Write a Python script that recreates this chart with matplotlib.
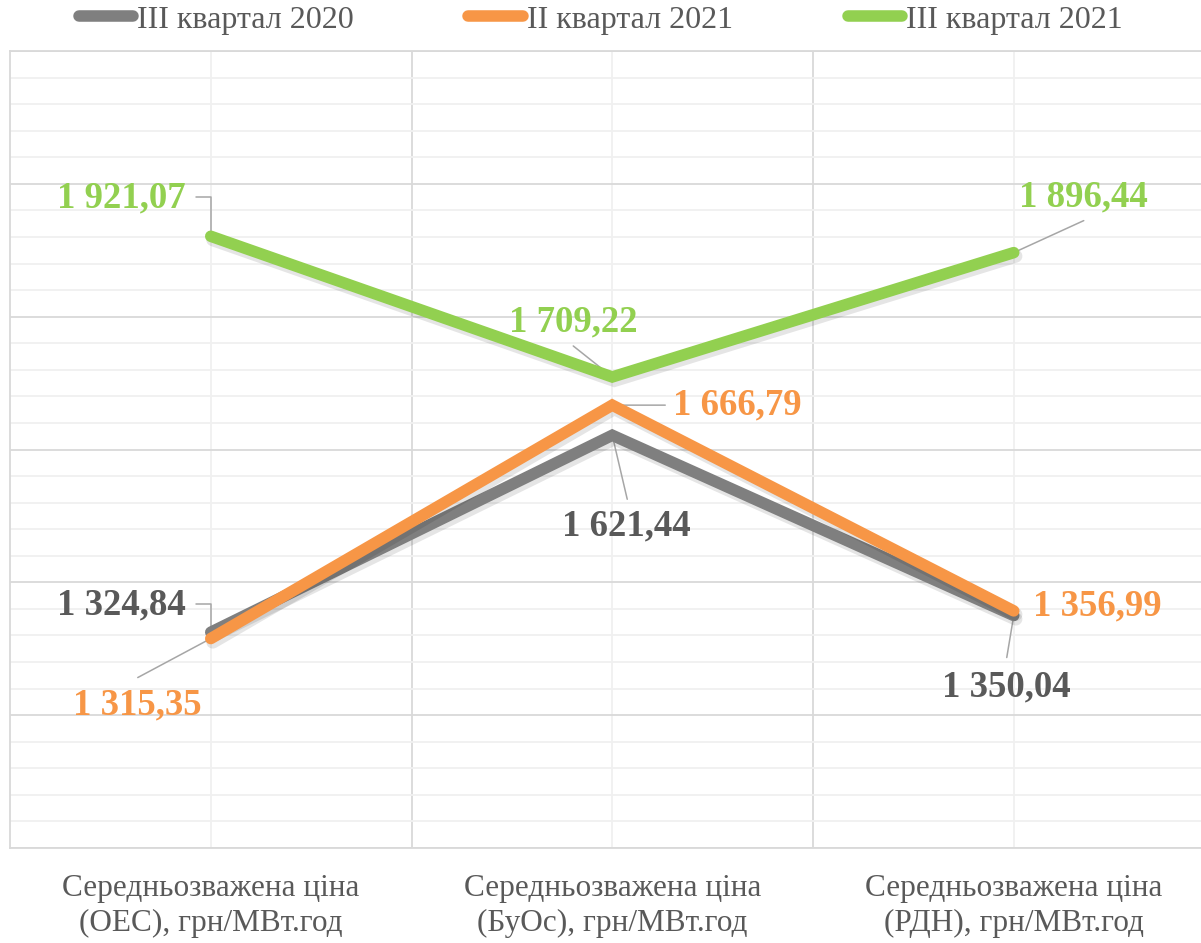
import matplotlib
matplotlib.use("Agg")
import matplotlib.pyplot as plt
import matplotlib.patheffects as pe
from matplotlib.lines import Line2D
import numpy as np

categories = [
    "Середньозважена ціна\n(ОЕС), грн/МВт.год",
    "Середньозважена ціна\n(БуОс), грн/МВт.год",
    "Середньозважена ціна\n(РДН), грн/МВт.год",
]
series_names = ["III квартал 2020", "II квартал 2021", "III квартал 2021"]
q3_2020 = [1324.84, 1621.44, 1350.04]
q2_2021 = [1315.35, 1666.79, 1356.99]
q3_2021 = [1921.07, 1709.22, 1896.44]

line_colors = ["#7f7f7f", "#f79646", "#92d050"]
label_colors = ["#595959", "#f79646", "#92d050"]
leader_color = "#a6a6a6"

# label placement per series/point: text offset (px), alignment, leader start (px) and style
label_layout = [
    [((-25, 27), "right", (-15, 28), "elbow"),
     ((14, -91), "center", (15, -64), "straight"),
     ((-7, -71), "center", (-7, -42), "straight")],
    [((-73, -66), "center", (-73, -39), "straight"),
     ((61, 0), "left", (53, 0), "straight"),
     ((19, 5), "left", None, None)],
    [((-25, 38), "right", (-15, 39), "elbow"),
     ((-39, 55), "center", (-39, 31), "straight"),
     ((70, 56), "center", (70, 32), "straight")],
]


def fmt(v):
    s = f"{v:,.2f}"
    return s.replace(",", " ").replace(".", ",")


W, H = 1201, 943
fig = plt.figure(figsize=(W / 100, H / 100), dpi=100)
ax = fig.add_axes([10 / W, (H - 848) / H, 1 - 10 / W, (848 - 51) / H])

x = np.arange(len(categories))
shadow = [pe.SimpleLineShadow(offset=(1.5, -2.5), shadow_color="black", alpha=0.1, linewidth=9.5),
          pe.Normal()]
for vals, c, name in zip([q3_2020, q2_2021, q3_2021], line_colors, series_names):
    ax.plot(x, vals, color=c, lw=8.3, solid_capstyle="round", solid_joinstyle="miter",
            zorder=3, path_effects=shadow, label=name)

font = ["Liberation Serif", "DejaVu Serif"]
for vals, lc, layout in zip([q3_2020, q2_2021, q3_2021], label_colors, label_layout):
    for xi, (v, (toff, ha, lstart, kind)) in enumerate(zip(vals, layout)):
        ax.annotate(fmt(v), xy=(xi, v), xytext=toff, textcoords="offset pixels",
                    ha=ha, va="center", fontsize=26.5, fontweight="bold", color=lc,
                    family=font, zorder=5)
        if lstart is None:
            continue
        conn = "angle,angleA=0,angleB=90,rad=0" if kind == "elbow" else "arc3"
        ax.annotate("", xy=(xi, v), xytext=lstart, textcoords="offset pixels",
                    arrowprops=dict(arrowstyle="-", color=leader_color, lw=1.1,
                                    connectionstyle=conn, shrinkA=0, shrinkB=0),
                    zorder=2)

ax.set_xlim(-0.5, -0.5 + (W - 10) / 401.5)
ax.set_ylim(1000, 2200)
ax.set_yticks(np.arange(1000, 2201, 200))
ax.set_yticks(np.arange(1000, 2201, 40), minor=True)
ax.set_xticks(x)
ax.set_xticklabels(categories, fontsize=22.5, color="#595959", family=font, linespacing=1.25)
ax.set_xticks([0.5, 1.5], minor=True)
ax.tick_params(axis="both", which="both", length=0)
ax.tick_params(axis="x", pad=19)
ax.tick_params(axis="y", labelleft=False)

ax.grid(True, axis="y", which="major", color="#d9d9d9", lw=1.3, zorder=0)
ax.grid(True, axis="y", which="minor", color="#f0f0f0", lw=1.3, zorder=0)
ax.grid(True, axis="x", which="major", color="#f0f0f0", lw=1.3, zorder=0)
ax.grid(True, axis="x", which="minor", color="#d9d9d9", lw=1.3, zorder=0)
ax.set_axisbelow(True)
ax.spines["right"].set_visible(False)
for side in ["left", "bottom", "top"]:
    ax.spines[side].set_color("#d9d9d9")
    ax.spines[side].set_linewidth(1.3)

handles = [Line2D([], [], color=c, lw=8.3, solid_capstyle="round") for c in line_colors]
fig.legend(handles, series_names, loc="center", bbox_to_anchor=(0.5, 1 - 20 / H), ncol=3,
           frameon=False, handlelength=1.7, handletextpad=0.12, columnspacing=3.6,
           prop={"family": font, "size": 23}, labelcolor="#595959")

fig.savefig("out.png", dpi=100)
